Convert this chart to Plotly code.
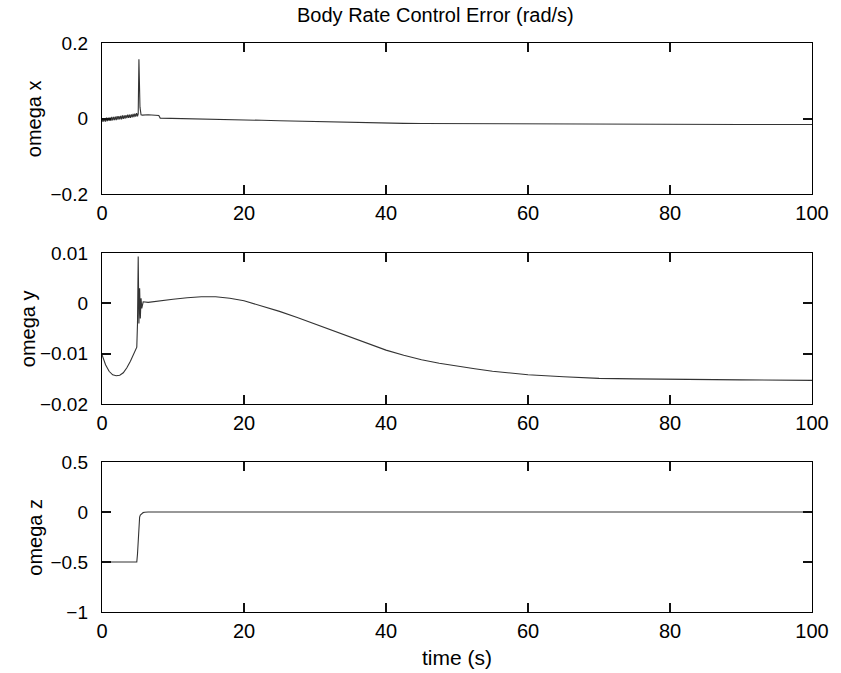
import plotly.graph_objects as go
from plotly.subplots import make_subplots

# ---- data ----------------------------------------------------------------
# omega x: fast oscillation band during the first 5 s, spike at the switch,
# then a slow drift
t_wx = [0.0, 0.125, 0.25, 0.375, 0.5, 0.625, 0.75, 0.875, 1.0, 1.125, 1.25,
        1.375, 1.5, 1.625, 1.75, 1.875, 2.0, 2.125, 2.25, 2.375, 2.5, 2.625,
        2.75, 2.875, 3.0, 3.125, 3.25, 3.375, 3.5, 3.625, 3.75, 3.875, 4.0,
        4.125, 4.25, 4.375, 4.5, 4.625, 4.75, 4.875, 5.0, 5.1, 5.2, 5.35,
        5.5, 5.7, 6.5, 7.5, 8.0, 8.2, 10, 12.5, 15, 17.5, 20, 22.5, 25,
        27.5, 30, 32.5, 35, 37.5, 40, 42.5, 45, 50, 55, 60, 65, 70, 75, 80,
        90, 100]
omega_x = [-0.009, 0.000, -0.008, 0.001, -0.008, 0.002, -0.007, 0.002,
           -0.006, 0.003, -0.006, 0.004, -0.005, 0.004, -0.004, 0.005,
           -0.004, 0.006, -0.003, 0.006, -0.002, 0.007, -0.002, 0.008,
           -0.001, 0.008, 0.000, 0.009, 0.001, 0.010, 0.002, 0.010,
           0.002, 0.011, 0.003, 0.012, 0.004, 0.013, 0.005, 0.014,
           0.006, 0.012, 0.157, 0.030, 0.010, 0.009, 0.010, 0.009, 0.008,
           0.001, 0.0005, -0.0005, -0.0015, -0.0028, -0.0038, -0.0048,
           -0.0060, -0.0072, -0.0085, -0.0097, -0.0107, -0.0116, -0.0123,
           -0.0129, -0.0133, -0.0138, -0.0141, -0.0143, -0.0146, -0.0150,
           -0.0155, -0.0158, -0.0160, -0.0160]

# omega y: dip before the switch, transient, slow hump then settling
t_wy = [0, 0.5, 1, 1.5, 2, 2.5, 3, 3.5, 4, 4.5, 4.9, 5.0, 5.1, 5.2, 5.3,
        5.4, 5.5, 5.6, 5.8, 6.5, 8, 10, 12, 14, 16, 18, 20, 22.5, 25, 27.5,
        30, 32.5, 35, 37.5, 40, 42.5, 45, 47.5, 50, 52.5, 55, 57.5, 60, 65,
        70, 75, 80, 90, 100]
omega_y = [-0.0102, -0.0122, -0.0135, -0.0142, -0.0144, -0.0143, -0.0138,
           -0.0128, -0.0115, -0.0100, -0.0087, -0.004, 0.0093, -0.004,
           0.003, -0.003, 0.001, -0.001, 0.0003, 0.0002, 0.0004, 0.0008,
           0.0011, 0.0013, 0.0013, 0.0010, 0.0005, -0.0005, -0.0016,
           -0.0028, -0.0041, -0.0055, -0.0068, -0.0081, -0.0093, -0.0103,
           -0.0112, -0.0119, -0.0125, -0.0130, -0.0135, -0.0139, -0.0142,
           -0.0146, -0.0149, -0.0150, -0.0151, -0.0152, -0.0153]

# omega z: constant offset, then a quick step back to zero
t_wz = [0, 4.9, 5.0, 5.1, 5.2, 5.3, 5.4, 5.6, 5.8, 6.0, 6.5, 10, 100]
omega_z = [-0.5, -0.5, -0.42, -0.25, -0.1, -0.05, -0.03, -0.015, -0.006,
           -0.002, 0.0, 0.0, 0.0]

x_ticks = [0, 20, 40, 60, 80, 100]
y_ranges = [[-0.2, 0.2], [-0.02, 0.01], [-1, 0.5]]
y_ticks = [[-0.2, 0, 0.2], [-0.02, -0.01, 0, 0.01], [-1, -0.5, 0, 0.5]]
y_ticktext = [["\u22120.2", "0", "0.2"],
              ["\u22120.02", "\u22120.01", "0", "0.01"],
              ["\u22121", "\u22120.5", "0", "0.5"]]
y_labels = ["omega x", "omega y", "omega z"]
title_text = "Body Rate Control Error (rad/s)"
x_label = "time (s)"

# ---- figure --------------------------------------------------------------
W, H = 841, 673
ML, MR, MT, MB = 102, 22, 43, 61
FONT = "Liberation Sans, Arial, Helvetica, sans-serif"

fig = make_subplots(rows=3, cols=1)
series = [(t_wx, omega_x), (t_wy, omega_y), (t_wz, omega_z)]
for i, (t, v) in enumerate(series, start=1):
    fig.add_trace(go.Scatter(x=t, y=v, mode="lines",
                             line=dict(color="#333333", width=1.1),
                             showlegend=False, hoverinfo="skip"),
                  row=i, col=1)

# panel boxes in pixel rows (top, bottom) and y-label centres (px from left)
panel_px = [(43, 194), (253, 404), (462, 612)]
ylabel_px = [34, 27, 34]
plot_h = H - MT - MB
plot_w = W - ML - MR

axis_style = dict(showline=True, linecolor="black", linewidth=1.4,
                  mirror="allticks", ticks="inside", ticklen=9,
                  tickwidth=2, tickcolor="#111111", showgrid=False,
                  zeroline=False)

for i in range(3):
    top, bot = panel_px[i]
    d0 = (H - MB - bot) / plot_h
    d1 = (H - MB - top) / plot_h
    yname = "yaxis" if i == 0 else f"yaxis{i + 1}"
    xname = "xaxis" if i == 0 else f"xaxis{i + 1}"
    fig.layout[yname].update(domain=[max(0, d0), min(1, d1)],
                             range=y_ranges[i], tickvals=y_ticks[i],
                             ticktext=y_ticktext[i], ticklabelstandoff=9,
                             tickfont=dict(family=FONT, size=19,
                                           color="black"),
                             **axis_style)
    fig.layout[xname].update(range=[0, 100], tickvals=x_ticks,
                             ticklabelstandoff=1,
                             tickfont=dict(family=FONT, size=20,
                                           color="black"),
                             **axis_style)
    fig.add_annotation(text=y_labels[i], xref="paper", yref="paper",
                       x=-(ML - ylabel_px[i]) / plot_w,
                       y=(d0 + d1) / 2, textangle=-90, showarrow=False,
                       xanchor="center", yanchor="middle",
                       font=dict(family=FONT, size=20, color="black"))

fig.add_annotation(text=x_label, xref="paper", yref="paper",
                   x=(460 - ML) / plot_w,
                   y=-(657 - (H - MB)) / plot_h, showarrow=False,
                   xanchor="center", yanchor="middle",
                   font=dict(family=FONT, size=21, color="black"))
fig.add_annotation(text=title_text, xref="paper", yref="paper",
                   x=(439 - ML) / plot_w,
                   y=1 + (MT - 15) / plot_h, showarrow=False,
                   xanchor="center", yanchor="middle",
                   font=dict(family=FONT, size=20, color="black"))

fig.update_layout(width=W, height=H, paper_bgcolor="white",
                  plot_bgcolor="white",
                  margin=dict(l=ML, r=MR, t=MT, b=MB, pad=0))

fig.write_html("out.html")
